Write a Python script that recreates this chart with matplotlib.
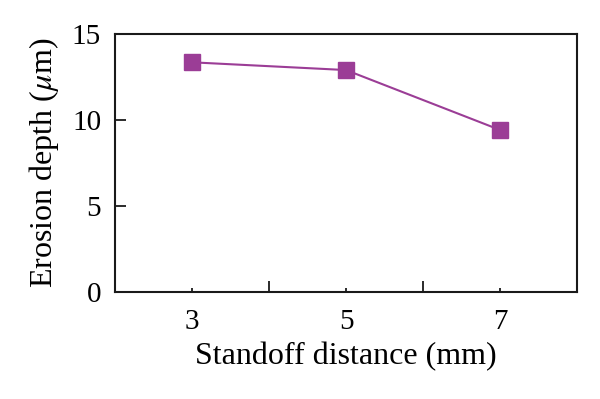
import matplotlib
matplotlib.use('Agg')
from matplotlib import pyplot as plt

# standoff distance (mm) vs erosion depth (um)
distances = [3, 5, 7]
depths = [13.35, 12.9, 9.42]
major_x = [2, 4, 6, 8]
y_ticks = [0, 5, 10, 15]

plt.rcParams['font.family'] = ['Liberation Serif', 'DejaVu Serif']
plt.rcParams['mathtext.fontset'] = 'stix'

fig = plt.figure(figsize=(6, 3.99), dpi=100)
ax = fig.add_axes([0.1917, 0.268, 0.770, 0.647])
ax.plot(distances, depths, color='#9b3d96', lw=1.5, marker='s', ms=11,
        mec='#9b3d96', mfc='#9b3d96')

ax.set_xlim(2, 8)
ax.set_ylim(0, 15)
ax.set_xticks(major_x)
ax.set_xticklabels([])
ax.set_xticks(distances, minor=True)
ax.set_xticklabels([str(d) for d in distances], minor=True)
ax.set_yticks(y_ticks)

for s in ax.spines.values():
    s.set_linewidth(1.5)
    s.set_color('#1a1a1a')
ax.tick_params(axis='both', which='major', direction='in', length=8, width=1.3,
               labelsize=21, color='#1a1a1a')
ax.tick_params(axis='x', which='minor', direction='in', length=3, width=1.3,
               labelsize=21, pad=12, color='#1a1a1a')
ax.tick_params(axis='y', pad=10)

ax.set_xlabel('Standoff distance (mm)', fontsize=23, labelpad=5)
ax.set_ylabel(r'Erosion depth ($\mu$m)', fontsize=23, labelpad=8)

fig.savefig('out.png')
